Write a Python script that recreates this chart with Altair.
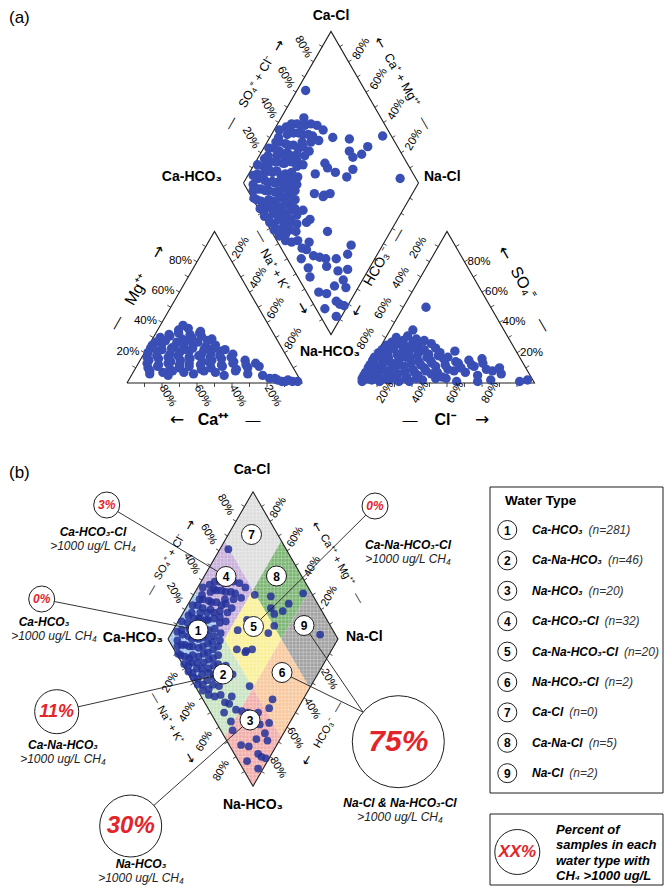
import math
import altair as alt
import pandas as pd

FONT = "Liberation Sans"
ARROW_FONT = "DejaVu Sans"
INK = "#1e1e1e"
BLUE_A = "#3a4fb6"
BLUE_B = "#24339a"
RED = "#e3242b"

# ---------------- data (percent values) ----------------
# diamond field: anion (Cl + SO4) % and cation (Na + K) %
dia_anion = [8, 14, 20, 26, 32, 38,
             3, 10, 16, 22, 28, 34, 41, 47,
             2, 8, 14, 20, 26, 32, 38, 45, 52, 56,
             1, 6, 12, 18, 24, 30, 36, 43, 50, 58,
             1, 6, 12, 18, 24, 31, 38, 46, 55, 61,
             2, 7, 13, 19, 25, 33, 40, 48, 57, 63,
             2, 8, 14, 20, 27, 66,
             3, 9, 15, 21,
             5, 11, 17,
             8, 14,
             5, 11, 17, 23, 29, 35, 43,
             1, 6, 13, 19, 25, 31, 37, 44, 50,
             4, 10, 17, 23, 29, 35, 41, 48, 54,
             3, 9, 15, 21, 27, 34, 40, 47, 53,
             3, 9, 16, 22, 28, 36, 44, 52,
             4, 10, 17, 23, 30,
             5, 12, 18, 24,
             7, 14, 20,
             66, 75, 71, 83, 77, 71, 95, 53, 53, 56,
             44, 61, 67, 91, 37, 42, 46, 25, 26, 23,
             32, 41, 12, 12, 18, 14, 16, 19, 22, 8,
             9, 7, 41, 36, 25, 31, 25, 24, 7, 11,
             14, 15, 9, 17, 20, 5, 28, 18]
dia_nak = [3, 2, 4, 3, 5, 3,
           8, 7, 9, 8, 10, 7, 9, 8,
           13, 12, 14, 13, 12, 14, 13, 12, 14, 13,
           18, 19, 17, 18, 19, 17, 18, 20, 18, 19,
           23, 22, 24, 23, 22, 24, 23, 22, 24, 23,
           28, 27, 29, 28, 27, 29, 28, 27, 29, 28,
           33, 32, 34, 33, 32, 36,
           38, 37, 39, 38,
           43, 42, 44,
           47, 46,
           6, 5, 6, 5, 6, 5, 6,
           11, 10, 11, 10, 11, 10, 11, 10, 11,
           16, 15, 16, 15, 16, 15, 16, 15, 16,
           21, 20, 21, 20, 21, 20, 21, 20, 21,
           26, 25, 26, 25, 26, 25, 26, 25,
           31, 30, 31, 30, 31,
           36, 35, 36, 35,
           41, 40, 41,
           5, 46, 50, 59, 58, 54, 64, 40, 43, 49,
           38, 57, 58, 88, 44, 50, 53, 43, 50, 49,
           64, 50, 50, 55, 57, 58, 64, 68, 72, 58,
           65, 69, 82, 83, 83, 88, 89, 93, 79, 84,
           92, 95, 97, 98, 75, 88, 78, 86]
# cation triangle: Ca % and Mg %
cat_ca = [49, 53, 47, 41, 66, 60, 54, 48, 42, 37, 73, 67, 61, 55, 49, 43, 37,
          78, 72, 66, 60, 54, 48, 42, 36, 30, 80, 74, 68, 62, 56, 50, 44, 38, 32, 25,
          83, 77, 71, 65, 59, 53, 47, 40, 33, 26, 19, 84, 74, 59, 42, 28, 20,
          17, 13, 11, 7, 5, 2, 14, 9,
          60, 54, 48, 42,
          70, 64, 58, 52, 46, 40,
          75, 69, 63, 57, 51, 45, 39, 33,
          80, 74, 68, 62, 56, 50, 44, 38, 32,
          82, 76, 70, 64, 58, 52, 46, 40, 33, 26, 20,
          83, 76, 70, 64, 52, 46, 34]
cat_mg = [38, 35, 36, 34, 30, 31, 29, 30, 31, 29, 25, 26, 24, 25, 26, 24, 25,
          20, 21, 19, 20, 21, 19, 20, 21, 19, 15, 16, 14, 15, 16, 14, 15, 16, 14, 15,
          10, 11, 9, 10, 11, 9, 10, 11, 9, 10, 11, 6, 5, 6, 5, 6, 5,
          3, 2, 1, 2, 1, 1, 3, 1,
          32, 33, 32, 33,
          27, 28, 27, 28, 27, 28,
          23, 22, 23, 22, 23, 22, 23, 22,
          17, 18, 17, 18, 17, 18, 17, 18, 17,
          13, 12, 13, 12, 13, 12, 13, 12, 13, 12, 13,
          8, 7, 8, 7, 8, 7, 8]
# anion triangle: Cl % and SO4 %
an_cl = [13, 13, 6, 12, 18, 3, 9, 15, 21, 28, 1, 6, 12, 18, 24, 30, 36, 44,
         0, 5, 10, 15, 21, 27, 33, 40, 48, 55, 62,
         0, 4, 9, 14, 20, 26, 32, 38, 46, 53, 60, 68, 75,
         0, 4, 9, 14, 19, 25, 31, 38, 45, 65, 78,
         1, 6, 11, 16, 22, 28, 35, 55, 67, 74, 91, 95,
         5, 11, 17, 23,
         2, 8, 14, 20, 26, 32,
         0, 3, 8, 13, 18, 24, 30, 36, 42,
         0, 2, 7, 12, 17, 23, 29, 35, 43, 50, 58, 64,
         0, 2, 7, 12, 17, 22, 28, 34, 41, 50, 57, 72,
         0, 3, 8, 13, 19, 25, 31, 42, 48]
an_so4 = [50, 35, 30, 31, 29, 25, 26, 24, 25, 26, 20, 21, 19, 20, 21, 19, 20, 21,
          15, 16, 14, 15, 16, 14, 15, 16, 14, 15, 16,
          10, 11, 9, 10, 11, 9, 10, 11, 9, 10, 11, 9, 10,
          5, 6, 4, 5, 6, 4, 5, 6, 4, 5, 6,
          1, 2, 1, 2, 1, 1, 2, 1, 1, 2, 1, 2,
          27, 28, 27, 28,
          22, 23, 22, 23, 22, 23,
          17, 18, 17, 18, 17, 18, 17, 18, 17,
          12, 13, 12, 13, 12, 13, 12, 13, 12, 13, 12, 13,
          7, 8, 7, 8, 7, 8, 7, 8, 7, 8, 7, 8,
          3, 3, 3, 3, 3, 3, 3, 3, 3]

tick_values = [20, 40, 60, 80]
tick_steps = [10, 20, 30, 40, 50, 60, 70, 80, 90]

type_names = ["Ca-HCO₃", "Ca-Na-HCO₃", "Na-HCO₃", "Ca-HCO₃-Cl", "Ca-Na-HCO₃-Cl",
              "Na-HCO₃-Cl", "Ca-Cl", "Ca-Na-Cl", "Na-Cl"]
type_counts = [281, 46, 20, 32, 20, 2, 0, 5, 2]
type_anion_third = [0, 0, 0, 1, 1, 1, 2, 2, 2]
type_nak_third = [0, 1, 2, 0, 1, 2, 0, 1, 2]
type_colors = ["#a3c6ec", "#c9e4c2", "#f2aeab", "#c8b0db", "#faf096",
               "#f8c99e", "#dedede", "#7cb574", "#a2a2a2"]

callout_pct = ["3%", "0%", "0%", "11%", "30%", "75%"]
callout_name = ["Ca-HCO₃-Cl", "Ca-HCO₃", "Ca-Na-HCO₃-Cl", "Ca-Na-HCO₃", "Na-HCO₃",
                "Na-Cl & Na-HCO₃-Cl"]
callout_sub = ">1000 ug/L CH₄"
callout_targets = [[4], [1], [5], [2], [3], [6, 9]]
note_lines = ["Percent of", "samples in each", "water type with", "CH₄ >1000 ug/L"]

# ---------------- layout ----------------
X0, X1, Y0, Y1 = 8, 664, 8, 886
W, H = X1 - X0, Y1 - Y0
R3 = 3 ** 0.5


def lerp(p, q, t):
    return (p[0] + (q[0] - p[0]) * t, p[1] + (q[1] - p[1]) * t)


def diamond(L, s):
    hw, hh = s / 2, s * R3 / 2
    return dict(L=L, T=(L[0] + hw, L[1] - hh), R=(L[0] + 2 * hw, L[1]), B=(L[0] + hw, L[1] + hh))


def dia_xy(D, a, n):
    L, T, B = D["L"], D["T"], D["B"]
    return (L[0] + a / 100 * (T[0] - L[0]) + n / 100 * (B[0] - L[0]),
            L[1] + a / 100 * (T[1] - L[1]) + n / 100 * (B[1] - L[1]))


def triangle(BL, s):
    return dict(BL=BL, BR=(BL[0] + s, BL[1]), AP=(BL[0] + s / 2, BL[1] - s * R3 / 2))


def tri_xy(Tr, w_bl, w_br, w_ap):
    t = (w_bl + w_br + w_ap)
    return (sum(Tr[k][0] * w for k, w in (("BL", w_bl), ("BR", w_br), ("AP", w_ap))) / t,
            sum(Tr[k][1] * w for k, w in (("BL", w_bl), ("BR", w_br), ("AP", w_ap))) / t)


DA = diamond((243.5, 183.0), 175.0)
TL = triangle((127.0, 383.0), 175.0)
TR = triangle((359.5, 383.0), 175.0)
DB = diamond((168.0, 639.0), 170.0)

xs = alt.Scale(domain=[X0, X1], range=[0, W], nice=False, zero=False)
ys = alt.Scale(domain=[Y0, Y1], range=[0, H], nice=False, zero=False)


def X(f="x"):
    return alt.X(f + ":Q", scale=xs, axis=None)


def Y(f="y"):
    return alt.Y(f + ":Q", scale=ys, axis=None, stack=None)


layers = []

# ---- region fills in diamond (b)
reg_rows = []
for k in range(9):
    i, j = type_anion_third[k], type_nak_third[k]
    a0, a1, n0, n1 = i * 100 / 3, (i + 1) * 100 / 3, j * 100 / 3, (j + 1) * 100 / 3
    lft = dia_xy(DB, a0, n0)
    rgt = dia_xy(DB, a1, n1)
    top = dia_xy(DB, a1, n0)
    bot = dia_xy(DB, a0, n1)
    for (px, py, py2) in ((lft[0], lft[1], lft[1]), (top[0], top[1], bot[1]), (rgt[0], rgt[1], rgt[1])):
        reg_rows.append(dict(region=k + 1, x=px, y=py, y2=py2, color=type_colors[k]))
reg_df = pd.DataFrame(reg_rows)
layers.append(alt.Chart(reg_df).mark_area(orient="vertical", opacity=1).encode(
    x=X(), y=Y(), y2=alt.Y2("y2:Q"), color=alt.Color("color:N", scale=None),
    detail="region:N"))

# ---- faint cross-hatch texture clipped to diamond (b)
hatch = []
Lx, Ly = DB["L"]
Rx = DB["R"][0]
Tx, Ty = DB["T"]
By = DB["B"][1]
hw, hh = Tx - Lx, Ly - Ty
xv = Lx + 2.0
while xv < Rx - 1:
    d = hh * (1 - abs(xv - Tx) / hw)
    hatch.append(dict(x=xv, y=Ly - d, x2=xv, y2=Ly + d))
    xv += 3.6
yv = Ty + 2.0
while yv < By - 1:
    d = hw * (1 - abs(yv - Ly) / hh)
    hatch.append(dict(x=Tx - d, y=yv, x2=Tx + d, y2=yv))
    yv += 3.6
layers.append(alt.Chart(pd.DataFrame(hatch)).mark_rule(color="white", strokeWidth=0.7, opacity=0.4).encode(
    x=X(), y=Y(), x2=alt.X2("x2:Q"), y2=alt.Y2("y2:Q")))

# ---- outlines
poly_rows = []
shapes = {
    "ta": [TL["BL"], TL["BR"], TL["AP"], TL["BL"]],
    "tr": [TR["BL"], TR["BR"], TR["AP"], TR["BL"]],
    "da": [DA["L"], DA["T"], DA["R"], DA["B"], DA["L"]],
    "db": [DB["L"], DB["T"], DB["R"], DB["B"], DB["L"]],
}
for name, pts in shapes.items():
    for o, p in enumerate(pts):
        poly_rows.append(dict(shape=name, order=o, x=p[0], y=p[1]))
layers.append(alt.Chart(pd.DataFrame(poly_rows)).mark_line(color=INK, strokeWidth=1.1).encode(
    x=X(), y=Y(), detail="shape:N", order="order:Q"))

# ---- ticks


def side_ticks(p, q, c, length=4.0):
    rows = []
    dx, dy = q[0] - p[0], q[1] - p[1]
    ln = math.hypot(dx, dy)
    nx, ny = -dy / ln, dx / ln
    mid = lerp(p, q, 0.5)
    if (mid[0] - c[0]) * nx + (mid[1] - c[1]) * ny < 0:
        nx, ny = -nx, -ny
    for t in tick_steps:
        P = lerp(p, q, t / 100)
        rows.append(dict(x=P[0], y=P[1], x2=P[0] + nx * length, y2=P[1] + ny * length))
    return rows


tick_rows = []
for Tr in (TL, TR):
    c = ((Tr["BL"][0] + Tr["BR"][0] + Tr["AP"][0]) / 3, (Tr["BL"][1] + Tr["BR"][1] + Tr["AP"][1]) / 3)
    for p, q in ((Tr["BL"], Tr["BR"]), (Tr["BR"], Tr["AP"]), (Tr["AP"], Tr["BL"])):
        tick_rows += side_ticks(p, q, c)
for D in (DA, DB):
    c = (D["T"][0], D["L"][1])
    for p, q in ((D["L"], D["T"]), (D["T"], D["R"]), (D["R"], D["B"]), (D["B"], D["L"])):
        tick_rows += side_ticks(p, q, c, 3.5)
layers.append(alt.Chart(pd.DataFrame(tick_rows)).mark_rule(color=INK, strokeWidth=0.8).encode(
    x=X(), y=Y(), x2=alt.X2("x2:Q"), y2=alt.Y2("y2:Q")))

# ---- sample points, panel (a)
pa = []
for a, n in zip(dia_anion, dia_nak):
    pa.append(dict(zip(("x", "y"), dia_xy(DA, a, n))))
for ca, mg in zip(cat_ca, cat_mg):
    pa.append(dict(zip(("x", "y"), tri_xy(TL, ca, 100 - ca - mg, mg))))
for cl, so4 in zip(an_cl, an_so4):
    pa.append(dict(zip(("x", "y"), tri_xy(TR, 100 - cl - so4, cl, so4))))
layers.append(alt.Chart(pd.DataFrame(pa)).mark_circle(size=88, color=BLUE_A, opacity=1).encode(
    x=X(), y=Y()))

# ---- sample points, panel (b)
pb = [dict(zip(("x", "y"), dia_xy(DB, a, n))) for a, n in zip(dia_anion, dia_nak)]
layers.append(alt.Chart(pd.DataFrame(pb)).mark_circle(size=60, color=BLUE_B, opacity=0.85).encode(
    x=X(), y=Y()))

# ---- type label circles in (b)
TYPE_POS = [(198, 630), (223, 674), (250, 720), (226, 576.5), (253.5, 626.5),
            (282, 672.5), (251.5, 534.5), (276.5, 576), (304, 625.5)]

# ---- callouts
CALL_C = [(106.7, 505, 13), (41.7, 599, 13), (375, 506, 13), (56.7, 711.7, 22),
          (130.7, 826, 31), (398.3, 741.7, 46)]
CALL_FS = [12, 12, 12, 18, 24, 30]
CALL_NAME = [(93, 532), (44, 622), (408, 545), (63, 745), (141, 864), (400, 803)]
line_rows = []
for k, targets in enumerate(callout_targets):
    cx, cy, r = CALL_C[k]
    sx, sy = cx, cy
    if len(targets) > 1:
        sx, sy = cx + r * math.cos(math.radians(220)), cy + r * math.sin(math.radians(220))
    for t in targets:
        tx, ty = TYPE_POS[t - 1]
        line_rows.append(dict(x=sx, y=sy, x2=tx, y2=ty))
layers.append(alt.Chart(pd.DataFrame(line_rows)).mark_rule(color=INK, strokeWidth=0.9).encode(
    x=X(), y=Y(), x2=alt.X2("x2:Q"), y2=alt.Y2("y2:Q")))

# ---- legend boxes
box_rows = [dict(x=490, x2=663, y=487, y2=793), dict(x=490, x2=663, y=814, y2=885)]
layers.append(alt.Chart(pd.DataFrame(box_rows)).mark_rect(fill="white", stroke=INK, strokeWidth=1).encode(
    x=X(), x2=alt.X2("x2:Q"), y=Y(), y2=alt.Y2("y2:Q")))

# ---- white circles
circ = []
for (x, y) in TYPE_POS:
    circ.append(dict(x=x, y=y, size=20 ** 2))
for (x, y, r) in CALL_C:
    circ.append(dict(x=x, y=y, size=(2 * r) ** 2))
LEG_X, LEG_Y0, LEG_DY = 507.3, 530, 30.4
for i in range(9):
    circ.append(dict(x=LEG_X, y=LEG_Y0 + LEG_DY * i, size=19 ** 2))
circ.append(dict(x=517.3, y=852, size=45 ** 2))
layers.append(alt.Chart(pd.DataFrame(circ)).mark_point(
    shape="circle", filled=True, fill="white", stroke=INK, strokeWidth=1, opacity=1).encode(
    x=X(), y=Y(), size=alt.Size("size:Q", scale=None)))

# ---- texts
texts = []


def T(x, y, text, size, style="n", angle=0, color="black", align="center"):
    texts.append(dict(x=x, y=y, text=text, size=size, style=style, angle=angle,
                      color=color, align=align))


def side_labels(p0, p1, off, angle, size, align="center"):
    for v in tick_values:
        P = lerp(p0, p1, v / 100)
        T(P[0] + off[0], P[1] + off[1], f"{v}%", size, angle=angle, align=align)


# panel (a)
T(9, 18, "(a)", 17, align="left")
T(331, 16, "Ca-Cl", 14, "b")
T(222, 177, "Ca-HCO₃", 14, "b", align="right")
T(424, 177, "Na-Cl", 14, "b", align="left")
T(330, 352, "Na-HCO₃", 14, "b")
side_labels(DA["L"], DA["T"], (-10.5, -14.7), 60, 11.5)
side_labels(DA["R"], DA["T"], (13, -13), 300, 11.5)
side_labels(TL["BL"], TL["AP"], (-5, -1), 0, 11.5, "right")
side_labels(TL["BR"], TL["BL"], (5.5, 13), 60, 11.5)
side_labels(TL["AP"], TL["BR"], (9, -14), 300, 11.5)
side_labels(TR["AP"], TR["BL"], (-11, -14), 300, 11.5)
side_labels(TR["BL"], TR["BR"], (-9, 9.5), 300, 11.5)
side_labels(TR["BR"], TR["AP"], (3, 0), 0, 11.5, "left")
T(256, 82, "SO₄⁼ + Cl⁻", 12.5, angle=300)
T(279, 46, "→", 14, "a", angle=300)
T(231, 123, "—", 13, angle=300)
T(380, 43, "←", 14, "a", angle=60)
T(402, 80, "Ca⁺ + Mg⁺⁺", 12.5, angle=60)
T(425, 123, "—", 13, angle=60)
T(137, 290, "Mg⁺⁺", 16, angle=300)
T(158, 252, "→", 16, "a", angle=300)
T(117, 323, "—", 14, angle=300)
T(275, 270, "Na⁺ + K⁺", 12.5, angle=60)
T(261, 236, "—", 13, angle=60)
T(303, 308, "→", 15, "a", angle=60)
T(177, 420, "←", 17, "a")
T(213, 420, "Ca⁺⁺", 16, "b")
T(253, 420, "—", 15)
T(378, 267, "HCO₃⁻", 14, angle=300)
T(398, 235, "—", 13, angle=300)
T(357, 310, "←", 15, "a", angle=300)
T(523, 283, "SO₄⁼", 16, angle=60)
T(505, 253, "←", 16, "a", angle=60)
T(543, 325, "—", 14, angle=60)
T(410, 420, "—", 15)
T(445, 420, "Cl⁻", 16, "b")
T(482, 420, "→", 17, "a")

# panel (b)
T(9, 473, "(b)", 17, align="left")
T(252, 470, "Ca-Cl", 14, "b")
T(163, 638, "Ca-HCO₃", 14, "b", align="right")
T(346, 637, "Na-Cl", 14, "b", align="left")
T(253, 805, "Na-HCO₃", 14, "b")
side_labels(DB["L"], DB["T"], (-10.5, -16.5), 60, 11)
side_labels(DB["R"], DB["T"], (8.3, -13.6), 300, 11)
side_labels(DB["L"], DB["B"], (-14.7, 13.9), 300, 11)
side_labels(DB["R"], DB["B"], (7.9, 10.8), 60, 11)
T(152, 590, "—", 11, angle=300)
T(170, 557, "SO₄⁼ + Cl⁻", 11, angle=300)
T(190, 525, "→", 13, "a", angle=300)
T(317, 527, "←", 13, "a", angle=60)
T(337, 560, "Ca⁺⁺ + Mg⁺⁺", 11, angle=60)
T(358, 598, "—", 11, angle=60)
T(155, 698, "—", 11, angle=60)
T(170, 725, "Na⁺ + K⁺", 11, angle=60)
T(190, 758, "→", 13, "a", angle=60)
T(338, 707, "—", 11, angle=300)
T(325, 733, "HCO₃⁻", 11, angle=300)
T(307, 760, "←", 13, "a", angle=300)

for k, (x, y) in enumerate(TYPE_POS):
    T(x, y + 0.5, str(k + 1), 12, "b")

for k in range(6):
    cx, cy, r = CALL_C[k]
    T(cx, cy, callout_pct[k], CALL_FS[k], "bi", color=RED)
    nx, ny = CALL_NAME[k]
    T(nx, ny, callout_name[k], 12, "bi")
    T(max(nx, 54), ny + 13.5, callout_sub, 12, "i", color="#222")

# legend
T(505, 501, "Water Type", 13.5, "b", align="left")
BOLD_W = {"C": .722, "a": .556, "-": .333, "H": .722, "O": .778, "N": .722, "l": .278, "₃": .38}
for i in range(9):
    y = LEG_Y0 + LEG_DY * i
    T(LEG_X, y + 0.5, str(i + 1), 12, "b")
    T(532, y, type_names[i], 12, "bi", align="left")
    w = sum(BOLD_W.get(ch, .6) for ch in type_names[i]) * 12
    T(532 + w + 6, y, f"(n={type_counts[i]})", 12, "i", color="#333", align="left")
T(517.3, 852, "XX%", 17, "bi", color=RED)
for i, line in enumerate(note_lines):
    T(556, 830 + 15.3 * i, line, 13, "bi", align="left")

tdf = pd.DataFrame(texts)
STY = {"n": ("normal", "normal", FONT), "b": ("bold", "normal", FONT),
       "bi": ("bold", "italic", FONT), "i": ("normal", "italic", FONT),
       "a": ("normal", "normal", ARROW_FONT)}
for (st, al), grp in tdf.groupby(["style", "align"]):
    fw, fs, fnt = STY[st]
    layers.append(alt.Chart(grp.reset_index(drop=True)).mark_text(
        font=fnt, fontWeight=fw, fontStyle=fs, align=al, baseline="middle").encode(
        x=X(), y=Y(), text=alt.Text("text:N"),
        size=alt.Size("size:Q", scale=None),
        angle=alt.Angle("angle:Q", scale=None),
        color=alt.Color("color:N", scale=None)))

chart = alt.layer(*layers).properties(
    width=W, height=H, padding=0, background="white",
    autosize=alt.AutoSizeParams(type="none")
).configure_view(strokeWidth=0)

chart.save("out.html", embed_options={"renderer": "svg", "actions": False})
